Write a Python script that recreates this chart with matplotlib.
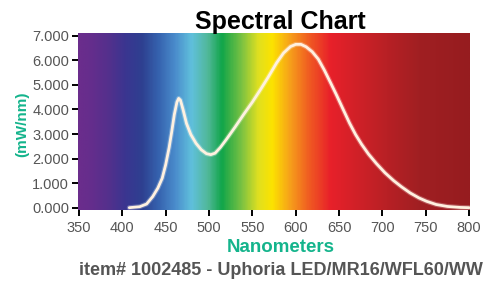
import numpy as np
import matplotlib
matplotlib.use("Agg")
import matplotlib.pyplot as plt
import matplotlib.patheffects as pe
from matplotlib.colors import LinearSegmentedColormap, to_rgb

# ---- data ----
wavelength_nm = [408, 420, 428, 435, 441, 446, 450, 454, 457, 460, 463,
                 465, 467, 470, 474, 479, 485, 491, 497, 502, 507, 513, 520, 530, 540,
                 550, 559, 568, 578, 586, 594, 600, 606, 612, 619, 626, 633, 640, 647,
                 655, 662, 669, 676, 684, 693, 703, 713, 722, 732, 742, 751, 762, 775,
                 790, 800]
power_mw = [0.0, 0.04, 0.15, 0.45, 0.8, 1.2, 1.75, 2.45, 3.1, 3.8, 4.3,
            4.45, 4.38, 4.0, 3.43, 2.98, 2.62, 2.36, 2.2, 2.16, 2.22, 2.45, 2.78, 3.28,
            3.8, 4.3, 4.79, 5.3, 5.9, 6.3, 6.56, 6.65, 6.65, 6.55, 6.35, 6.05, 5.6, 5.1,
            4.59, 3.98, 3.45, 2.98, 2.58, 2.18, 1.8, 1.42, 1.1, 0.85, 0.6, 0.4, 0.26,
            0.13, 0.05, 0.01, 0.0]
power_mw = [v * 1000 for v in power_mw]

x_ticks = [350, 400, 450, 500, 550, 600, 650, 700, 750, 800]
y_ticks = [0, 1000, 2000, 3000, 4000, 5000, 6000, 7000]
y_tick_labels = ["0.000", "1.000", "2.000", "3.000", "4.000", "5.000", "6.000", "7.000"]

spectrum_nm = [350, 362, 383, 403, 423, 441, 461, 480, 499, 515, 538, 557, 573,
               593, 616, 640, 666, 705, 743, 800]
spectrum_colors = ["#6b2d8c", "#662d8c", "#55308c", "#3b3590", "#2e4090", "#3561ad",
                   "#4a8ccc", "#60c0dc", "#50b898", "#10a54a", "#7cc242", "#e0e020",
                   "#fce300", "#f7a21a", "#f05a22", "#e8202a", "#d42128", "#b82025",
                   "#a01f22", "#961c1f"]

title = "Spectral Chart"
x_label = "Nanometers"
y_label = "(mW/nm)"
caption = "item# 1002485 - Uphoria LED/MR16/WFL60/WW"

plt.rcParams['font.family'] = ['Liberation Sans', 'DejaVu Sans']

fig = plt.figure(figsize=(5.04, 2.90), dpi=100)
ax = fig.add_axes([0.155, 0.2745, 0.7775, 0.6115])

xmin, xmax = 349, 801
ymin, ymax = -110, 7110

# spectrum gradient
pos = [(n - spectrum_nm[0]) / (spectrum_nm[-1] - spectrum_nm[0]) for n in spectrum_nm]
cmap = LinearSegmentedColormap.from_list("spec", list(zip(pos, [to_rgb(c) for c in spectrum_colors])))
grad = np.linspace(0, 1, 600).reshape(1, -1)
ax.imshow(grad, cmap=cmap, aspect="auto", extent=[xmin, xmax, ymin, ymax],
          interpolation="bilinear", zorder=0)

ax.plot(wavelength_nm, power_mw, color="#fff1e0", lw=2.0, zorder=3,
        solid_joinstyle="round", solid_capstyle="round",
        path_effects=[pe.Stroke(linewidth=3.6, foreground="white", alpha=0.25), pe.Normal()])

ax.set_xlim(xmin, xmax)
ax.set_ylim(ymin, ymax)
for s in ax.spines.values():
    s.set_visible(False)

ax.set_xticks(x_ticks)
ax.set_xticklabels([str(t) for t in x_ticks])
ax.set_yticks(y_ticks)
ax.set_yticklabels(y_tick_labels)
ax.tick_params(axis="both", direction="out", length=4.5, width=1.4, color="black",
               labelsize=10.5, labelcolor="#555555")
ax.tick_params(axis="x", pad=3)
ax.tick_params(axis="y", pad=2)

fig.text(0.556, 0.925, title, ha="center", va="center", fontsize=18,
         fontweight="bold", color="black")
fig.text(0.558, 0.147, x_label, ha="center", va="center", fontsize=13.5,
         fontweight="bold", color="#14b48c")
fig.text(0.044, 0.57, y_label, ha="center", va="center", fontsize=11,
         fontweight="bold", color="#14b48c", rotation=90)
fig.text(0.557, 0.066, caption, ha="center", va="center", fontsize=13,
         fontweight="bold", color="#555555")

fig.savefig("out.png", dpi=100)
